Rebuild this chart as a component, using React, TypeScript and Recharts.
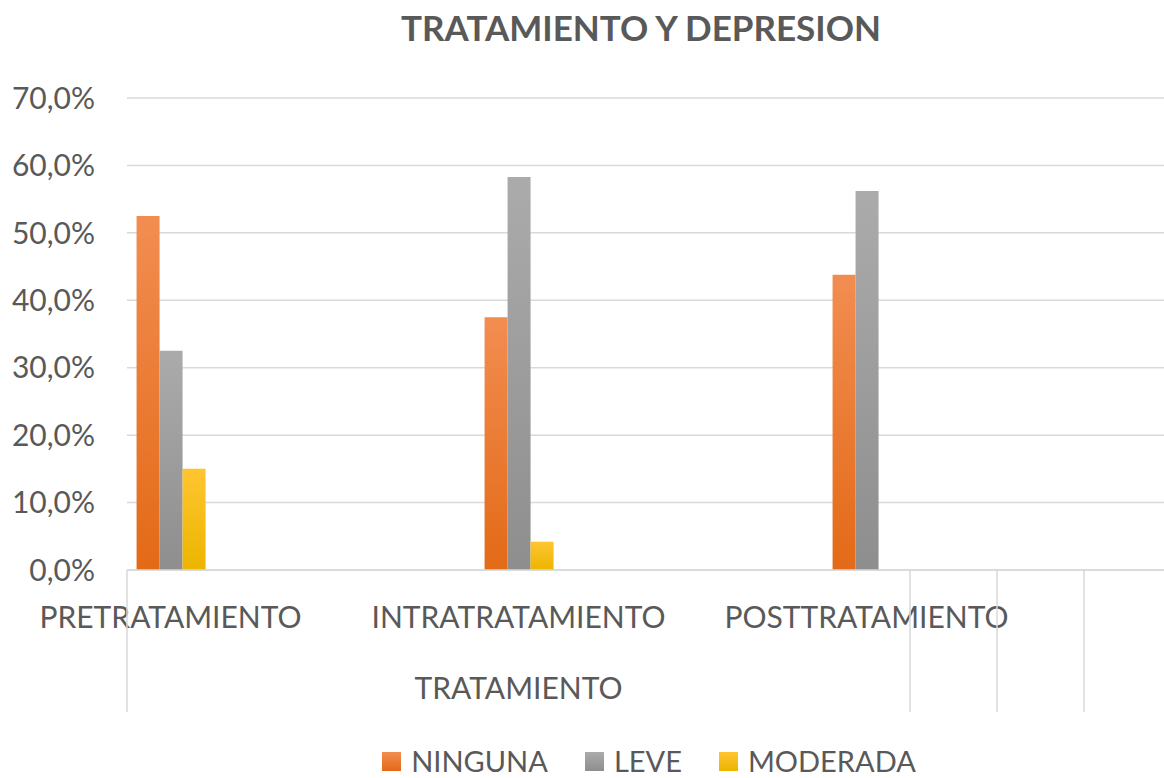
import { BarChart, Bar, XAxis, YAxis, CartesianGrid, Legend } from 'recharts';

const categories = ['PRETRATAMIENTO', 'INTRATRATAMIENTO', 'POSTTRATAMIENTO'];
const ninguna = [52.5, 37.5, 43.8];
const leve = [32.5, 58.3, 56.2];
const moderada = [15.0, 4.2, 0];
const yTicks = [0, 10, 20, 30, 40, 50, 60, 70];
const groupLabel = 'TRATAMIENTO';
const title = 'TRATAMIENTO Y DEPRESION';

// the source sheet has 12 category slots; the data sits in slots 0, 4 and 8
const SLOT_COUNT = 12;
const SLOT_OF = [0, 4, 8];
const GROUP_LABEL_SLOT = 4;
const SEPARATOR_SLOTS = [0, 9, 10, 11];

const data = Array.from({ length: SLOT_COUNT }, (_, i) => {
  const k = SLOT_OF.indexOf(i);
  if (k < 0) return { name: '' };
  return { name: categories[k], ninguna: ninguna[k], leve: leve[k], moderada: moderada[k] };
});

const FONT = "Lato, 'Open Sans', sans-serif";
const TEXT = '#595959';
const GRID = '#d9d9d9';

const series = [
  { key: 'ninguna', label: 'NINGUNA', grad: 'gNinguna', top: '#f28d51', bottom: '#e36a17' },
  { key: 'leve', label: 'LEVE', grad: 'gLeve', top: '#ababab', bottom: '#8e8e8e' },
  { key: 'moderada', label: 'MODERADA', grad: 'gModerada', top: '#ffc530', bottom: '#ecb500' },
];

function CategoryTick(props: any) {
  const { x, y, payload, index } = props;
  const half = payload.offset || 0;
  return (
    <g>
      {payload.value ? (
        <text x={x} y={y + 58} textAnchor="middle" fill={TEXT} fontSize={30} fontFamily={FONT}>
          {payload.value}
        </text>
      ) : null}
      {index === GROUP_LABEL_SLOT ? (
        <text x={x} y={y + 129} textAnchor="middle" fill={TEXT} fontSize={30} fontFamily={FONT}>
          {groupLabel}
        </text>
      ) : null}
      {SEPARATOR_SLOTS.includes(index) ? (
        <line x1={x - half} x2={x - half} y1={y} y2={y + 142} stroke={GRID} strokeWidth={1.5} />
      ) : null}
    </g>
  );
}

function LegendContent() {
  return (
    <div
      style={{
        display: 'flex',
        justifyContent: 'center',
        alignItems: 'center',
        height: 34,
        paddingLeft: 127,
        fontFamily: FONT,
      }}
    >
      {series.map((s, i) => (
        <div key={s.key} style={{ display: 'flex', alignItems: 'center', marginLeft: i ? 37 : 0 }}>
          <div
            style={{
              width: 19,
              height: 19,
              background: `linear-gradient(${s.top}, ${s.bottom})`,
              marginRight: 10,
            }}
          />
          <span style={{ fontSize: 29, color: TEXT, lineHeight: '34px' }}>{s.label}</span>
        </div>
      ))}
    </div>
  );
}

export default function App() {
  return (
    <div style={{ position: 'absolute', left: 0, top: 0, width: 1164, height: 778, overflow: 'hidden', background: '#fff' }}>
      <div
        style={{
          position: 'absolute',
          left: 0,
          width: 1282,
          top: 6,
          textAlign: 'center',
          fontFamily: FONT,
          fontWeight: 700,
          fontSize: 35,
          color: TEXT,
        }}
      >
        {title}
      </div>
      <BarChart
        width={1172}
        height={778}
        data={data}
        margin={{ top: 98, right: 1, bottom: 0, left: 0 }}
        barGap={0}
        barCategoryGap="11%"
      >
        <defs>
          {series.map((s) => (
            <linearGradient key={s.grad} id={s.grad} x1="0" y1="0" x2="0" y2="1">
              <stop offset="0%" stopColor={s.top} />
              <stop offset="100%" stopColor={s.bottom} />
            </linearGradient>
          ))}
        </defs>
        <CartesianGrid vertical={false} stroke={GRID} strokeWidth={1.5} />
        <XAxis
          dataKey="name"
          interval={0}
          height={174}
          tickLine={false}
          tickSize={0}
          tickMargin={0}
          axisLine={{ stroke: GRID, strokeWidth: 1.5 }}
          tick={<CategoryTick />}
        />
        <YAxis
          width={127}
          domain={[0, 70]}
          ticks={yTicks}
          axisLine={false}
          tickLine={false}
          tickSize={0}
          tickMargin={32}
          tick={{ fill: TEXT, fontSize: 30, fontFamily: FONT }}
          tickFormatter={(v: number) => `${v.toFixed(1).replace('.', ',')}%`}
        />
        <Legend verticalAlign="bottom" height={34} content={<LegendContent />} />
        {series.map((s) => (
          <Bar key={s.key} dataKey={s.key} name={s.label} fill={`url(#${s.grad})`} isAnimationActive={false} />
        ))}
      </BarChart>
    </div>
  );
}
